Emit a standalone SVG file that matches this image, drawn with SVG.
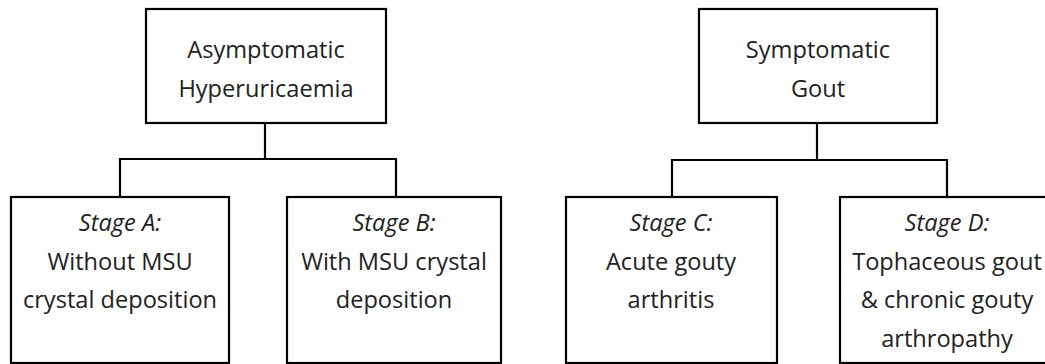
<svg xmlns="http://www.w3.org/2000/svg" width="1045" height="364" viewBox="0 0 1045 364">
<style>
.box{fill:#fff;stroke:#000;stroke-width:2.2}
.con{fill:none;stroke:#000;stroke-width:2.2}
text{font-family:"Open Sans","Liberation Sans",sans-serif;font-size:23.6px;fill:#222;text-anchor:middle}
.it{font-style:italic}
</style>
<rect width="1045" height="364" fill="#fff"/>
<g id="connectors">
<path class="con" d="M265,123V159M120,197V159H396V197"/>
<path class="con" d="M817,123V160M672,197V160H947V197"/>
</g>
<g id="n-asym">
<rect class="box" x="146" y="9" width="240" height="114"/>
<text x="266" y="58">Asymptomatic</text>
<text x="266" y="97">Hyperuricaemia</text>
</g>
<g id="n-symp">
<rect class="box" x="699" y="9" width="238" height="114"/>
<text x="818" y="58">Symptomatic</text>
<text x="818" y="97">Gout</text>
</g>
<g id="n-a">
<rect class="box" x="11" y="197" width="218" height="166"/>
<text class="it" x="120" y="231">Stage A:</text>
<text x="120" y="270">Without MSU</text>
<text x="120" y="308">crystal deposition</text>
</g>
<g id="n-b">
<rect class="box" x="287" y="197" width="214" height="166"/>
<text class="it" x="394" y="231">Stage B:</text>
<text x="394" y="270">With MSU crystal</text>
<text x="394" y="308">deposition</text>
</g>
<g id="n-c">
<rect class="box" x="566" y="197" width="211" height="166"/>
<text class="it" x="671" y="231">Stage C:</text>
<text x="671" y="270">Acute gouty</text>
<text x="671" y="308">arthritis</text>
</g>
<g id="n-d">
<rect class="box" x="840" y="197" width="214" height="166"/>
<text class="it" x="947" y="231">Stage D:</text>
<text x="947" y="270">Tophaceous gout</text>
<text x="947" y="308">&amp; chronic gouty</text>
<text x="947" y="347">arthropathy</text>
</g>
</svg>
